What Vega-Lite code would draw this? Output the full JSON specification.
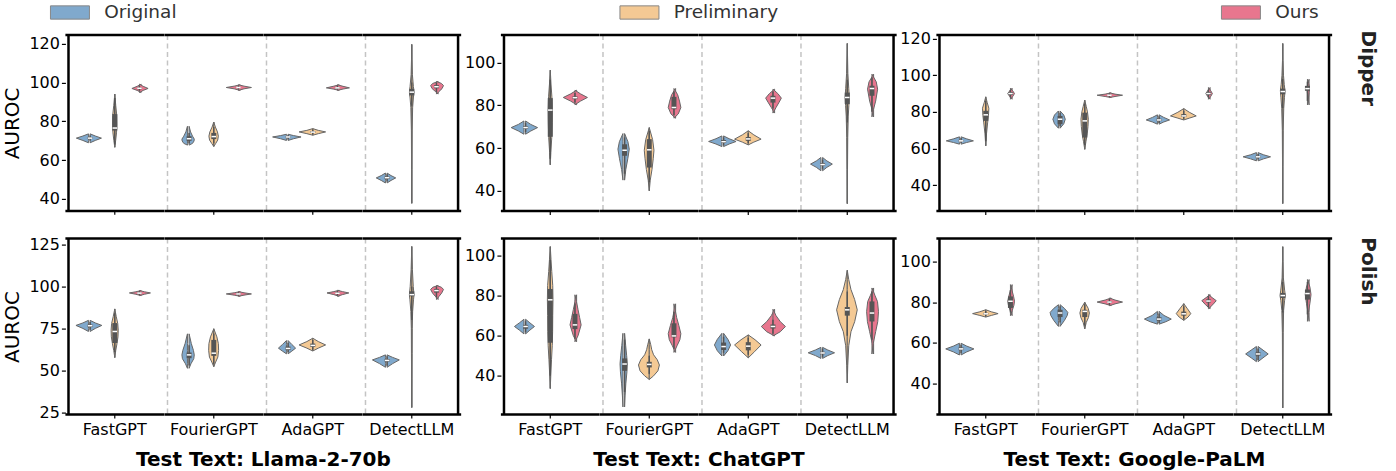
{
"$schema": "https://vega.github.io/schema/vega-lite/v6.json",
"padding": {"left": 2.4, "top": 1.9, "right": 10, "bottom": 0},
"datasets": {
"DL": [
{"detector":"FastGPT","method":"Original","auroc":68.9,"dens":0},{"detector":"FastGPT","method":"Original","auroc":70.1,"dens":0.42},{"detector":"FastGPT","method":"Original","auroc":71.3,"dens":0.92},{"detector":"FastGPT","method":"Original","auroc":72.4,"dens":0.42},{"detector":"FastGPT","method":"Original","auroc":73.5,"dens":0},
{"detector":"FastGPT","method":"Preliminary","auroc":66.6,"dens":0},{"detector":"FastGPT","method":"Preliminary","auroc":70,"dens":0.07},{"detector":"FastGPT","method":"Preliminary","auroc":74,"dens":0.14},{"detector":"FastGPT","method":"Preliminary","auroc":78,"dens":0.17},{"detector":"FastGPT","method":"Preliminary","auroc":83,"dens":0.16},{"detector":"FastGPT","method":"Preliminary","auroc":88,"dens":0.08},{"detector":"FastGPT","method":"Preliminary","auroc":94,"dens":0},
{"detector":"FastGPT","method":"Ours","auroc":94.8,"dens":0},{"detector":"FastGPT","method":"Ours","auroc":95.9,"dens":0.3},{"detector":"FastGPT","method":"Ours","auroc":96.9,"dens":0.7},{"detector":"FastGPT","method":"Ours","auroc":98.0,"dens":0.3},{"detector":"FastGPT","method":"Ours","auroc":99.1,"dens":0},
{"detector":"FourierGPT","method":"Original","auroc":67.7,"dens":0},{"detector":"FourierGPT","method":"Original","auroc":68.6,"dens":0.28},{"detector":"FourierGPT","method":"Original","auroc":69.8,"dens":0.4},{"detector":"FourierGPT","method":"Original","auroc":70.8,"dens":0.42},{"detector":"FourierGPT","method":"Original","auroc":72.3,"dens":0.28},{"detector":"FourierGPT","method":"Original","auroc":74.5,"dens":0.12},{"detector":"FourierGPT","method":"Original","auroc":77.4,"dens":0},
{"detector":"FourierGPT","method":"Preliminary","auroc":67,"dens":0},{"detector":"FourierGPT","method":"Preliminary","auroc":68.5,"dens":0.15},{"detector":"FourierGPT","method":"Preliminary","auroc":70.3,"dens":0.32},{"detector":"FourierGPT","method":"Preliminary","auroc":72.3,"dens":0.37},{"detector":"FourierGPT","method":"Preliminary","auroc":74.5,"dens":0.3},{"detector":"FourierGPT","method":"Preliminary","auroc":77,"dens":0.13},{"detector":"FourierGPT","method":"Preliminary","auroc":79.6,"dens":0},
{"detector":"FourierGPT","method":"Ours","auroc":95.9,"dens":0},{"detector":"FourierGPT","method":"Ours","auroc":96.7,"dens":0.45},{"detector":"FourierGPT","method":"Ours","auroc":97.4,"dens":1.05},{"detector":"FourierGPT","method":"Ours","auroc":98.1,"dens":0.45},{"detector":"FourierGPT","method":"Ours","auroc":98.8,"dens":0},
{"detector":"AdaGPT","method":"Original","auroc":70.1,"dens":0},{"detector":"AdaGPT","method":"Original","auroc":71.0,"dens":0.45},{"detector":"AdaGPT","method":"Original","auroc":71.9,"dens":1.05},{"detector":"AdaGPT","method":"Original","auroc":72.6,"dens":0.45},{"detector":"AdaGPT","method":"Original","auroc":73.3,"dens":0},
{"detector":"AdaGPT","method":"Preliminary","auroc":72.8,"dens":0},{"detector":"AdaGPT","method":"Preliminary","auroc":73.6,"dens":0.45},{"detector":"AdaGPT","method":"Preliminary","auroc":74.5,"dens":1.04},{"detector":"AdaGPT","method":"Preliminary","auroc":75.3,"dens":0.45},{"detector":"AdaGPT","method":"Preliminary","auroc":76.2,"dens":0},
{"detector":"AdaGPT","method":"Ours","auroc":95.9,"dens":0},{"detector":"AdaGPT","method":"Ours","auroc":96.6,"dens":0.45},{"detector":"AdaGPT","method":"Ours","auroc":97.2,"dens":0.97},{"detector":"AdaGPT","method":"Ours","auroc":98.0,"dens":0.45},{"detector":"AdaGPT","method":"Ours","auroc":98.8,"dens":0},
{"detector":"DetectLLM","method":"Original","auroc":48.2,"dens":0},{"detector":"DetectLLM","method":"Original","auroc":49.5,"dens":0.32},{"detector":"DetectLLM","method":"Original","auroc":50.8,"dens":0.7},{"detector":"DetectLLM","method":"Original","auroc":52.0,"dens":0.32},{"detector":"DetectLLM","method":"Original","auroc":53.3,"dens":0},
{"detector":"DetectLLM","method":"Preliminary","auroc":37.7,"dens":0},{"detector":"DetectLLM","method":"Preliminary","auroc":55,"dens":0.015},{"detector":"DetectLLM","method":"Preliminary","auroc":75,"dens":0.03},{"detector":"DetectLLM","method":"Preliminary","auroc":87,"dens":0.07},{"detector":"DetectLLM","method":"Preliminary","auroc":92,"dens":0.13},{"detector":"DetectLLM","method":"Preliminary","auroc":95,"dens":0.18},{"detector":"DetectLLM","method":"Preliminary","auroc":98,"dens":0.13},{"detector":"DetectLLM","method":"Preliminary","auroc":104,"dens":0.05},{"detector":"DetectLLM","method":"Preliminary","auroc":112,"dens":0.02},{"detector":"DetectLLM","method":"Preliminary","auroc":119.6,"dens":0},
{"detector":"DetectLLM","method":"Ours","auroc":94.0,"dens":0},{"detector":"DetectLLM","method":"Ours","auroc":95.3,"dens":0.2},{"detector":"DetectLLM","method":"Ours","auroc":96.8,"dens":0.45},{"detector":"DetectLLM","method":"Ours","auroc":98.4,"dens":0.57},{"detector":"DetectLLM","method":"Ours","auroc":99.5,"dens":0.4},{"detector":"DetectLLM","method":"Ours","auroc":100.5,"dens":0},
{"detector":"FastGPT","method":"Original","lo":70.0,"q1":70.9,"med":71.3,"q3":71.8,"hi":72.6},
{"detector":"FastGPT","method":"Preliminary","lo":68,"q1":75.2,"med":76.5,"q3":83.7,"hi":92},
{"detector":"FastGPT","method":"Ours","lo":95.8,"q1":96.5,"med":97.0,"q3":97.4,"hi":98.2},
{"detector":"FourierGPT","method":"Original","lo":68.5,"q1":69.9,"med":71.0,"q3":72.3,"hi":74},
{"detector":"FourierGPT","method":"Preliminary","lo":68.5,"q1":70.8,"med":72.1,"q3":74.0,"hi":77},
{"detector":"FourierGPT","method":"Ours","lo":96.5,"q1":97.1,"med":97.4,"q3":97.7,"hi":98.3},
{"detector":"AdaGPT","method":"Original","lo":70.6,"q1":71.5,"med":71.9,"q3":72.3,"hi":72.9},
{"detector":"AdaGPT","method":"Preliminary","lo":73.2,"q1":74.0,"med":74.4,"q3":74.9,"hi":75.7},
{"detector":"AdaGPT","method":"Ours","lo":96.4,"q1":96.9,"med":97.2,"q3":97.6,"hi":98.3},
{"detector":"DetectLLM","method":"Original","lo":49.0,"q1":50.2,"med":50.9,"q3":51.5,"hi":52.7},
{"detector":"DetectLLM","method":"Preliminary","lo":88,"q1":93.3,"med":95.0,"q3":96.7,"hi":100},
{"detector":"DetectLLM","method":"Ours","lo":95.0,"q1":97.0,"med":97.8,"q3":98.6,"hi":99.8}
],
"DC": [
{"detector":"FastGPT","method":"Original","auroc":66.5,"dens":0},{"detector":"FastGPT","method":"Original","auroc":68.0,"dens":0.42},{"detector":"FastGPT","method":"Original","auroc":69.6,"dens":0.97},{"detector":"FastGPT","method":"Original","auroc":71.1,"dens":0.42},{"detector":"FastGPT","method":"Original","auroc":72.7,"dens":0},
{"detector":"FastGPT","method":"Preliminary","auroc":52.2,"dens":0},{"detector":"FastGPT","method":"Preliminary","auroc":58,"dens":0.05},{"detector":"FastGPT","method":"Preliminary","auroc":65,"dens":0.12},{"detector":"FastGPT","method":"Preliminary","auroc":72,"dens":0.15},{"detector":"FastGPT","method":"Preliminary","auroc":78,"dens":0.16},{"detector":"FastGPT","method":"Preliminary","auroc":84,"dens":0.13},{"detector":"FastGPT","method":"Preliminary","auroc":90,"dens":0.06},{"detector":"FastGPT","method":"Preliminary","auroc":96.5,"dens":0},
{"detector":"FastGPT","method":"Ours","auroc":80.3,"dens":0},{"detector":"FastGPT","method":"Ours","auroc":82.0,"dens":0.45},{"detector":"FastGPT","method":"Ours","auroc":83.7,"dens":1.01},{"detector":"FastGPT","method":"Ours","auroc":85.4,"dens":0.45},{"detector":"FastGPT","method":"Ours","auroc":87.1,"dens":0},
{"detector":"FourierGPT","method":"Original","auroc":45,"dens":0},{"detector":"FourierGPT","method":"Original","auroc":50,"dens":0.1},{"detector":"FourierGPT","method":"Original","auroc":55,"dens":0.26},{"detector":"FourierGPT","method":"Original","auroc":59.5,"dens":0.38},{"detector":"FourierGPT","method":"Original","auroc":63,"dens":0.27},{"detector":"FourierGPT","method":"Original","auroc":66.8,"dens":0},
{"detector":"FourierGPT","method":"Preliminary","auroc":40,"dens":0},{"detector":"FourierGPT","method":"Preliminary","auroc":45,"dens":0.08},{"detector":"FourierGPT","method":"Preliminary","auroc":50,"dens":0.22},{"detector":"FourierGPT","method":"Preliminary","auroc":55,"dens":0.32},{"detector":"FourierGPT","method":"Preliminary","auroc":59,"dens":0.38},{"detector":"FourierGPT","method":"Preliminary","auroc":64,"dens":0.27},{"detector":"FourierGPT","method":"Preliminary","auroc":69.6,"dens":0},
{"detector":"FourierGPT","method":"Ours","auroc":74,"dens":0},{"detector":"FourierGPT","method":"Ours","auroc":76,"dens":0.35},{"detector":"FourierGPT","method":"Ours","auroc":79,"dens":0.56},{"detector":"FourierGPT","method":"Ours","auroc":82,"dens":0.45},{"detector":"FourierGPT","method":"Ours","auroc":85,"dens":0.3},{"detector":"FourierGPT","method":"Ours","auroc":87.9,"dens":0},
{"detector":"AdaGPT","method":"Original","auroc":60.7,"dens":0},{"detector":"AdaGPT","method":"Original","auroc":61.9,"dens":0.45},{"detector":"AdaGPT","method":"Original","auroc":63.1,"dens":1.01},{"detector":"AdaGPT","method":"Original","auroc":64.4,"dens":0.45},{"detector":"AdaGPT","method":"Original","auroc":65.7,"dens":0},
{"detector":"AdaGPT","method":"Preliminary","auroc":61.5,"dens":0},{"detector":"AdaGPT","method":"Preliminary","auroc":62.8,"dens":0.45},{"detector":"AdaGPT","method":"Preliminary","auroc":64.2,"dens":1.04},{"detector":"AdaGPT","method":"Preliminary","auroc":66.2,"dens":0.45},{"detector":"AdaGPT","method":"Preliminary","auroc":68.1,"dens":0},
{"detector":"AdaGPT","method":"Ours","auroc":76.4,"dens":0},{"detector":"AdaGPT","method":"Ours","auroc":79,"dens":0.25},{"detector":"AdaGPT","method":"Ours","auroc":81.5,"dens":0.5},{"detector":"AdaGPT","method":"Ours","auroc":83.4,"dens":0.68},{"detector":"AdaGPT","method":"Ours","auroc":85.5,"dens":0.4},{"detector":"AdaGPT","method":"Ours","auroc":87.6,"dens":0},
{"detector":"DetectLLM","method":"Original","auroc":49.4,"dens":0},{"detector":"DetectLLM","method":"Original","auroc":51.0,"dens":0.35},{"detector":"DetectLLM","method":"Original","auroc":52.5,"dens":0.79},{"detector":"DetectLLM","method":"Original","auroc":54.0,"dens":0.35},{"detector":"DetectLLM","method":"Original","auroc":55.6,"dens":0},
{"detector":"DetectLLM","method":"Preliminary","auroc":34,"dens":0},{"detector":"DetectLLM","method":"Preliminary","auroc":50,"dens":0.02},{"detector":"DetectLLM","method":"Preliminary","auroc":65,"dens":0.04},{"detector":"DetectLLM","method":"Preliminary","auroc":75,"dens":0.08},{"detector":"DetectLLM","method":"Preliminary","auroc":80,"dens":0.13},{"detector":"DetectLLM","method":"Preliminary","auroc":84,"dens":0.16},{"detector":"DetectLLM","method":"Preliminary","auroc":88,"dens":0.12},{"detector":"DetectLLM","method":"Preliminary","auroc":95,"dens":0.05},{"detector":"DetectLLM","method":"Preliminary","auroc":109,"dens":0},
{"detector":"DetectLLM","method":"Ours","auroc":74.6,"dens":0},{"detector":"DetectLLM","method":"Ours","auroc":78,"dens":0.12},{"detector":"DetectLLM","method":"Ours","auroc":82,"dens":0.3},{"detector":"DetectLLM","method":"Ours","auroc":87.6,"dens":0.46},{"detector":"DetectLLM","method":"Ours","auroc":91,"dens":0.35},{"detector":"DetectLLM","method":"Ours","auroc":94.6,"dens":0},
{"detector":"FastGPT","method":"Original","lo":67.5,"q1":69.0,"med":69.6,"q3":70.2,"hi":71.7},
{"detector":"FastGPT","method":"Preliminary","lo":55,"q1":65.3,"med":77.8,"q3":83.4,"hi":92},
{"detector":"FastGPT","method":"Ours","lo":81.3,"q1":82.9,"med":83.6,"q3":84.2,"hi":85.8},
{"detector":"FourierGPT","method":"Original","lo":48,"q1":56.4,"med":59.0,"q3":61.8,"hi":65},
{"detector":"FourierGPT","method":"Preliminary","lo":44,"q1":50.9,"med":59.2,"q3":64.2,"hi":68},
{"detector":"FourierGPT","method":"Ours","lo":75.5,"q1":78.2,"med":79.0,"q3":84.0,"hi":86.5},
{"detector":"AdaGPT","method":"Original","lo":61.3,"q1":62.4,"med":63.0,"q3":63.8,"hi":65.0},
{"detector":"AdaGPT","method":"Preliminary","lo":62.3,"q1":63.4,"med":64.3,"q3":65.2,"hi":67.0},
{"detector":"AdaGPT","method":"Ours","lo":78.5,"q1":81.3,"med":83.4,"q3":84.5,"hi":86.5},
{"detector":"DetectLLM","method":"Original","lo":50.3,"q1":51.8,"med":52.3,"q3":53.0,"hi":54.6},
{"detector":"DetectLLM","method":"Preliminary","lo":72,"q1":80.6,"med":83.7,"q3":86.0,"hi":92},
{"detector":"DetectLLM","method":"Ours","lo":77,"q1":84.5,"med":87.9,"q3":89.2,"hi":93}
],
"DG": [
{"detector":"FastGPT","method":"Original","auroc":62.4,"dens":0},{"detector":"FastGPT","method":"Original","auroc":63.3,"dens":0.45},{"detector":"FastGPT","method":"Original","auroc":64.2,"dens":1.0},{"detector":"FastGPT","method":"Original","auroc":65.3,"dens":0.45},{"detector":"FastGPT","method":"Original","auroc":66.4,"dens":0},
{"detector":"FastGPT","method":"Preliminary","auroc":61.5,"dens":0},{"detector":"FastGPT","method":"Preliminary","auroc":68,"dens":0.06},{"detector":"FastGPT","method":"Preliminary","auroc":74,"dens":0.15},{"detector":"FastGPT","method":"Preliminary","auroc":78,"dens":0.22},{"detector":"FastGPT","method":"Preliminary","auroc":82,"dens":0.25},{"detector":"FastGPT","method":"Preliminary","auroc":85,"dens":0.12},{"detector":"FastGPT","method":"Preliminary","auroc":88.2,"dens":0},
{"detector":"FastGPT","method":"Ours","auroc":86.9,"dens":0},{"detector":"FastGPT","method":"Ours","auroc":88.4,"dens":0.18},{"detector":"FastGPT","method":"Ours","auroc":90.0,"dens":0.33},{"detector":"FastGPT","method":"Ours","auroc":91.5,"dens":0.18},{"detector":"FastGPT","method":"Ours","auroc":92.9,"dens":0},
{"detector":"FourierGPT","method":"Original","auroc":71.1,"dens":0},{"detector":"FourierGPT","method":"Original","auroc":73.5,"dens":0.3},{"detector":"FourierGPT","method":"Original","auroc":76.0,"dens":0.42},{"detector":"FourierGPT","method":"Original","auroc":78.3,"dens":0.3},{"detector":"FourierGPT","method":"Original","auroc":80.5,"dens":0},
{"detector":"FourierGPT","method":"Preliminary","auroc":59.6,"dens":0},{"detector":"FourierGPT","method":"Preliminary","auroc":64,"dens":0.1},{"detector":"FourierGPT","method":"Preliminary","auroc":68,"dens":0.2},{"detector":"FourierGPT","method":"Preliminary","auroc":72,"dens":0.26},{"detector":"FourierGPT","method":"Preliminary","auroc":76,"dens":0.29},{"detector":"FourierGPT","method":"Preliminary","auroc":80,"dens":0.22},{"detector":"FourierGPT","method":"Preliminary","auroc":83,"dens":0.12},{"detector":"FourierGPT","method":"Preliminary","auroc":86.4,"dens":0},
{"detector":"FourierGPT","method":"Ours","auroc":87.8,"dens":0},{"detector":"FourierGPT","method":"Ours","auroc":88.4,"dens":0.45},{"detector":"FourierGPT","method":"Ours","auroc":89.1,"dens":1.06},{"detector":"FourierGPT","method":"Ours","auroc":89.7,"dens":0.45},{"detector":"FourierGPT","method":"Ours","auroc":90.4,"dens":0},
{"detector":"AdaGPT","method":"Original","auroc":73.3,"dens":0},{"detector":"AdaGPT","method":"Original","auroc":74.5,"dens":0.38},{"detector":"AdaGPT","method":"Original","auroc":75.6,"dens":0.85},{"detector":"AdaGPT","method":"Original","auroc":77.0,"dens":0.38},{"detector":"AdaGPT","method":"Original","auroc":78.4,"dens":0},
{"detector":"AdaGPT","method":"Preliminary","auroc":75.6,"dens":0},{"detector":"AdaGPT","method":"Preliminary","auroc":76.6,"dens":0.45},{"detector":"AdaGPT","method":"Preliminary","auroc":77.8,"dens":1.01},{"detector":"AdaGPT","method":"Preliminary","auroc":79.8,"dens":0.45},{"detector":"AdaGPT","method":"Preliminary","auroc":81.8,"dens":0},
{"detector":"AdaGPT","method":"Ours","auroc":86.9,"dens":0},{"detector":"AdaGPT","method":"Ours","auroc":88.4,"dens":0.18},{"detector":"AdaGPT","method":"Ours","auroc":90.0,"dens":0.32},{"detector":"AdaGPT","method":"Ours","auroc":91.6,"dens":0.18},{"detector":"AdaGPT","method":"Ours","auroc":93.3,"dens":0},
{"detector":"DetectLLM","method":"Original","auroc":53.3,"dens":0},{"detector":"DetectLLM","method":"Original","auroc":54.4,"dens":0.45},{"detector":"DetectLLM","method":"Original","auroc":55.5,"dens":1.01},{"detector":"DetectLLM","method":"Original","auroc":56.6,"dens":0.45},{"detector":"DetectLLM","method":"Original","auroc":57.8,"dens":0},
{"detector":"DetectLLM","method":"Preliminary","auroc":30,"dens":0},{"detector":"DetectLLM","method":"Preliminary","auroc":50,"dens":0.015},{"detector":"DetectLLM","method":"Preliminary","auroc":70,"dens":0.035},{"detector":"DetectLLM","method":"Preliminary","auroc":82,"dens":0.08},{"detector":"DetectLLM","method":"Preliminary","auroc":88,"dens":0.14},{"detector":"DetectLLM","method":"Preliminary","auroc":91.5,"dens":0.18},{"detector":"DetectLLM","method":"Preliminary","auroc":95,"dens":0.12},{"detector":"DetectLLM","method":"Preliminary","auroc":100,"dens":0.06},{"detector":"DetectLLM","method":"Preliminary","auroc":108,"dens":0.02},{"detector":"DetectLLM","method":"Preliminary","auroc":117.3,"dens":0},
{"detector":"DetectLLM","method":"Ours","auroc":83.8,"dens":0},{"detector":"DetectLLM","method":"Ours","auroc":87,"dens":0.07},{"detector":"DetectLLM","method":"Ours","auroc":90.5,"dens":0.13},{"detector":"DetectLLM","method":"Ours","auroc":93.3,"dens":0.15},{"detector":"DetectLLM","method":"Ours","auroc":95.5,"dens":0.1},{"detector":"DetectLLM","method":"Ours","auroc":97.8,"dens":0},
{"detector":"FastGPT","method":"Original","lo":63.0,"q1":63.8,"med":64.2,"q3":64.7,"hi":65.7},
{"detector":"FastGPT","method":"Preliminary","lo":64,"q1":75.1,"med":78.4,"q3":80.6,"hi":86},
{"detector":"FastGPT","method":"Ours","lo":87.8,"q1":89.2,"med":90.0,"q3":90.8,"hi":92.0},
{"detector":"FourierGPT","method":"Original","lo":72.2,"q1":73.3,"med":76.0,"q3":77.8,"hi":79.5},
{"detector":"FourierGPT","method":"Preliminary","lo":62,"q1":66,"med":75.1,"q3":79.6,"hi":84.5},
{"detector":"FourierGPT","method":"Ours","lo":88.2,"q1":88.8,"med":89.1,"q3":89.4,"hi":90.0},
{"detector":"AdaGPT","method":"Original","lo":74.0,"q1":75.0,"med":75.6,"q3":76.3,"hi":77.6},
{"detector":"AdaGPT","method":"Preliminary","lo":76.2,"q1":77.2,"med":77.8,"q3":78.8,"hi":80.6},
{"detector":"AdaGPT","method":"Ours","lo":87.8,"q1":89.2,"med":90.0,"q3":90.8,"hi":92.2},
{"detector":"DetectLLM","method":"Original","lo":54.0,"q1":55.0,"med":55.5,"q3":56.0,"hi":57.0},
{"detector":"DetectLLM","method":"Preliminary","lo":82,"q1":89.6,"med":91.1,"q3":92.7,"hi":98},
{"detector":"DetectLLM","method":"Ours","lo":86,"q1":91.5,"med":92.7,"q3":94.2,"hi":96.5}
],
"PL": [
{"detector":"FastGPT","method":"Original","auroc":73.2,"dens":0},{"detector":"FastGPT","method":"Original","auroc":75.0,"dens":0.42},{"detector":"FastGPT","method":"Original","auroc":76.8,"dens":0.95},{"detector":"FastGPT","method":"Original","auroc":78.3,"dens":0.42},{"detector":"FastGPT","method":"Original","auroc":79.8,"dens":0},
{"detector":"FastGPT","method":"Preliminary","auroc":57.7,"dens":0},{"detector":"FastGPT","method":"Preliminary","auroc":62,"dens":0.08},{"detector":"FastGPT","method":"Preliminary","auroc":66,"dens":0.18},{"detector":"FastGPT","method":"Preliminary","auroc":70,"dens":0.26},{"detector":"FastGPT","method":"Preliminary","auroc":74,"dens":0.28},{"detector":"FastGPT","method":"Preliminary","auroc":78,"dens":0.24},{"detector":"FastGPT","method":"Preliminary","auroc":82,"dens":0.12},{"detector":"FastGPT","method":"Preliminary","auroc":86.6,"dens":0},
{"detector":"FastGPT","method":"Ours","auroc":94.5,"dens":0},{"detector":"FastGPT","method":"Ours","auroc":95.3,"dens":0.4},{"detector":"FastGPT","method":"Ours","auroc":96.1,"dens":0.89},{"detector":"FastGPT","method":"Ours","auroc":96.8,"dens":0.4},{"detector":"FastGPT","method":"Ours","auroc":97.5,"dens":0},
{"detector":"FourierGPT","method":"Original","auroc":51.3,"dens":0},{"detector":"FourierGPT","method":"Original","auroc":54,"dens":0.15},{"detector":"FourierGPT","method":"Original","auroc":57,"dens":0.38},{"detector":"FourierGPT","method":"Original","auroc":59.3,"dens":0.42},{"detector":"FourierGPT","method":"Original","auroc":62,"dens":0.35},{"detector":"FourierGPT","method":"Original","auroc":66,"dens":0.18},{"detector":"FourierGPT","method":"Original","auroc":71.8,"dens":0},
{"detector":"FourierGPT","method":"Preliminary","auroc":52.3,"dens":0},{"detector":"FourierGPT","method":"Preliminary","auroc":55,"dens":0.15},{"detector":"FourierGPT","method":"Preliminary","auroc":58,"dens":0.33},{"detector":"FourierGPT","method":"Preliminary","auroc":62,"dens":0.39},{"detector":"FourierGPT","method":"Preliminary","auroc":66,"dens":0.37},{"detector":"FourierGPT","method":"Preliminary","auroc":70,"dens":0.25},{"detector":"FourierGPT","method":"Preliminary","auroc":74.8,"dens":0},
{"detector":"FourierGPT","method":"Ours","auroc":94.1,"dens":0},{"detector":"FourierGPT","method":"Ours","auroc":94.8,"dens":0.45},{"detector":"FourierGPT","method":"Ours","auroc":95.5,"dens":1.05},{"detector":"FourierGPT","method":"Ours","auroc":96.2,"dens":0.45},{"detector":"FourierGPT","method":"Ours","auroc":96.9,"dens":0},
{"detector":"AdaGPT","method":"Original","auroc":59.9,"dens":0},{"detector":"AdaGPT","method":"Original","auroc":61.5,"dens":0.3},{"detector":"AdaGPT","method":"Original","auroc":63.3,"dens":0.61},{"detector":"AdaGPT","method":"Original","auroc":65.5,"dens":0.3},{"detector":"AdaGPT","method":"Original","auroc":67.8,"dens":0},
{"detector":"AdaGPT","method":"Preliminary","auroc":61.6,"dens":0},{"detector":"AdaGPT","method":"Preliminary","auroc":63.3,"dens":0.45},{"detector":"AdaGPT","method":"Preliminary","auroc":65.2,"dens":1.04},{"detector":"AdaGPT","method":"Preliminary","auroc":67.2,"dens":0.45},{"detector":"AdaGPT","method":"Preliminary","auroc":69.2,"dens":0},
{"detector":"AdaGPT","method":"Ours","auroc":94.1,"dens":0},{"detector":"AdaGPT","method":"Ours","auroc":95.1,"dens":0.4},{"detector":"AdaGPT","method":"Ours","auroc":96.1,"dens":0.92},{"detector":"AdaGPT","method":"Ours","auroc":96.9,"dens":0.4},{"detector":"AdaGPT","method":"Ours","auroc":97.7,"dens":0},
{"detector":"DetectLLM","method":"Original","auroc":51.9,"dens":0},{"detector":"DetectLLM","method":"Original","auroc":54.1,"dens":0.45},{"detector":"DetectLLM","method":"Original","auroc":56.3,"dens":0.99},{"detector":"DetectLLM","method":"Original","auroc":57.8,"dens":0.45},{"detector":"DetectLLM","method":"Original","auroc":59.3,"dens":0},
{"detector":"DetectLLM","method":"Preliminary","auroc":28,"dens":0},{"detector":"DetectLLM","method":"Preliminary","auroc":45,"dens":0.015},{"detector":"DetectLLM","method":"Preliminary","auroc":60,"dens":0.025},{"detector":"DetectLLM","method":"Preliminary","auroc":75,"dens":0.035},{"detector":"DetectLLM","method":"Preliminary","auroc":85,"dens":0.07},{"detector":"DetectLLM","method":"Preliminary","auroc":92,"dens":0.14},{"detector":"DetectLLM","method":"Preliminary","auroc":95,"dens":0.18},{"detector":"DetectLLM","method":"Preliminary","auroc":100,"dens":0.12},{"detector":"DetectLLM","method":"Preliminary","auroc":110,"dens":0.05},{"detector":"DetectLLM","method":"Preliminary","auroc":123.7,"dens":0},
{"detector":"DetectLLM","method":"Ours","auroc":92.2,"dens":0},{"detector":"DetectLLM","method":"Ours","auroc":94,"dens":0.2},{"detector":"DetectLLM","method":"Ours","auroc":96,"dens":0.42},{"detector":"DetectLLM","method":"Ours","auroc":98.2,"dens":0.57},{"detector":"DetectLLM","method":"Ours","auroc":99.5,"dens":0.4},{"detector":"DetectLLM","method":"Ours","auroc":100.5,"dens":0},
{"detector":"FastGPT","method":"Original","lo":74.2,"q1":75.8,"med":76.6,"q3":77.3,"hi":78.8},
{"detector":"FastGPT","method":"Preliminary","lo":61,"q1":66.3,"med":73.2,"q3":78.2,"hi":84},
{"detector":"FastGPT","method":"Ours","lo":94.9,"q1":95.6,"med":96.0,"q3":96.4,"hi":97.1},
{"detector":"FourierGPT","method":"Original","lo":53,"q1":57.3,"med":59.3,"q3":60.7,"hi":65},
{"detector":"FourierGPT","method":"Preliminary","lo":54,"q1":58.7,"med":60.3,"q3":68.2,"hi":72},
{"detector":"FourierGPT","method":"Ours","lo":94.5,"q1":95.1,"med":95.5,"q3":95.9,"hi":96.5},
{"detector":"AdaGPT","method":"Original","lo":60.8,"q1":62.2,"med":63.1,"q3":64.2,"hi":66.5},
{"detector":"AdaGPT","method":"Preliminary","lo":62.3,"q1":64.0,"med":64.9,"q3":66.0,"hi":68.2},
{"detector":"AdaGPT","method":"Ours","lo":94.6,"q1":95.4,"med":95.9,"q3":96.4,"hi":97.2},
{"detector":"DetectLLM","method":"Original","lo":52.8,"q1":55.3,"med":56.0,"q3":56.8,"hi":58.5},
{"detector":"DetectLLM","method":"Preliminary","lo":80,"q1":94.1,"med":95.1,"q3":97.1,"hi":100},
{"detector":"DetectLLM","method":"Ours","lo":93.5,"q1":96.3,"med":97.5,"q3":98.5,"hi":99.8}
],
"PC": [
{"detector":"FastGPT","method":"Original","auroc":60.9,"dens":0},{"detector":"FastGPT","method":"Original","auroc":62.8,"dens":0.35},{"detector":"FastGPT","method":"Original","auroc":64.6,"dens":0.72},{"detector":"FastGPT","method":"Original","auroc":66.4,"dens":0.35},{"detector":"FastGPT","method":"Original","auroc":68.2,"dens":0},
{"detector":"FastGPT","method":"Preliminary","auroc":33.7,"dens":0},{"detector":"FastGPT","method":"Preliminary","auroc":40,"dens":0.04},{"detector":"FastGPT","method":"Preliminary","auroc":48,"dens":0.1},{"detector":"FastGPT","method":"Preliminary","auroc":55,"dens":0.16},{"detector":"FastGPT","method":"Preliminary","auroc":62,"dens":0.19},{"detector":"FastGPT","method":"Preliminary","auroc":70,"dens":0.2},{"detector":"FastGPT","method":"Preliminary","auroc":78,"dens":0.22},{"detector":"FastGPT","method":"Preliminary","auroc":85,"dens":0.2},{"detector":"FastGPT","method":"Preliminary","auroc":92,"dens":0.12},{"detector":"FastGPT","method":"Preliminary","auroc":98,"dens":0.06},{"detector":"FastGPT","method":"Preliminary","auroc":104.4,"dens":0},
{"detector":"FastGPT","method":"Ours","auroc":57.0,"dens":0},{"detector":"FastGPT","method":"Ours","auroc":60,"dens":0.25},{"detector":"FastGPT","method":"Ours","auroc":65.4,"dens":0.5},{"detector":"FastGPT","method":"Ours","auroc":69,"dens":0.38},{"detector":"FastGPT","method":"Ours","auroc":73,"dens":0.25},{"detector":"FastGPT","method":"Ours","auroc":77,"dens":0.12},{"detector":"FastGPT","method":"Ours","auroc":80.4,"dens":0},
{"detector":"FourierGPT","method":"Original","auroc":24.5,"dens":0},{"detector":"FourierGPT","method":"Original","auroc":30,"dens":0.04},{"detector":"FourierGPT","method":"Original","auroc":36,"dens":0.1},{"detector":"FourierGPT","method":"Original","auroc":42,"dens":0.19},{"detector":"FourierGPT","method":"Original","auroc":46,"dens":0.22},{"detector":"FourierGPT","method":"Original","auroc":50,"dens":0.17},{"detector":"FourierGPT","method":"Original","auroc":55,"dens":0.09},{"detector":"FourierGPT","method":"Original","auroc":61.2,"dens":0},
{"detector":"FourierGPT","method":"Preliminary","auroc":38.2,"dens":0},{"detector":"FourierGPT","method":"Preliminary","auroc":40,"dens":0.35},{"detector":"FourierGPT","method":"Preliminary","auroc":42.5,"dens":0.7},{"detector":"FourierGPT","method":"Preliminary","auroc":45.4,"dens":0.82},{"detector":"FourierGPT","method":"Preliminary","auroc":48,"dens":0.65},{"detector":"FourierGPT","method":"Preliminary","auroc":50.5,"dens":0.35},{"detector":"FourierGPT","method":"Preliminary","auroc":53,"dens":0.2},{"detector":"FourierGPT","method":"Preliminary","auroc":55.5,"dens":0.12},{"detector":"FourierGPT","method":"Preliminary","auroc":58.4,"dens":0},
{"detector":"FourierGPT","method":"Ours","auroc":51.7,"dens":0},{"detector":"FourierGPT","method":"Ours","auroc":55,"dens":0.25},{"detector":"FourierGPT","method":"Ours","auroc":58,"dens":0.48},{"detector":"FourierGPT","method":"Ours","auroc":61,"dens":0.56},{"detector":"FourierGPT","method":"Ours","auroc":65,"dens":0.4},{"detector":"FourierGPT","method":"Ours","auroc":69,"dens":0.22},{"detector":"FourierGPT","method":"Ours","auroc":75.9,"dens":0},
{"detector":"AdaGPT","method":"Original","auroc":49.9,"dens":0},{"detector":"AdaGPT","method":"Original","auroc":52.5,"dens":0.35},{"detector":"AdaGPT","method":"Original","auroc":55.4,"dens":0.57},{"detector":"AdaGPT","method":"Original","auroc":58.2,"dens":0.35},{"detector":"AdaGPT","method":"Original","auroc":61.2,"dens":0},
{"detector":"AdaGPT","method":"Preliminary","auroc":49.0,"dens":0},{"detector":"AdaGPT","method":"Preliminary","auroc":52,"dens":0.5},{"detector":"AdaGPT","method":"Preliminary","auroc":55.4,"dens":1.04},{"detector":"AdaGPT","method":"Preliminary","auroc":58,"dens":0.55},{"detector":"AdaGPT","method":"Preliminary","auroc":60.4,"dens":0},
{"detector":"AdaGPT","method":"Ours","auroc":59.9,"dens":0},{"detector":"AdaGPT","method":"Ours","auroc":62,"dens":0.6},{"detector":"AdaGPT","method":"Ours","auroc":64.6,"dens":1.01},{"detector":"AdaGPT","method":"Ours","auroc":67,"dens":0.6},{"detector":"AdaGPT","method":"Ours","auroc":70,"dens":0.25},{"detector":"AdaGPT","method":"Ours","auroc":73.2,"dens":0},
{"detector":"DetectLLM","method":"Original","auroc":48.7,"dens":0},{"detector":"DetectLLM","method":"Original","auroc":50.1,"dens":0.42},{"detector":"DetectLLM","method":"Original","auroc":51.5,"dens":0.97},{"detector":"DetectLLM","method":"Original","auroc":52.9,"dens":0.42},{"detector":"DetectLLM","method":"Original","auroc":54.2,"dens":0},
{"detector":"DetectLLM","method":"Preliminary","auroc":36.5,"dens":0},{"detector":"DetectLLM","method":"Preliminary","auroc":45,"dens":0.04},{"detector":"DetectLLM","method":"Preliminary","auroc":55,"dens":0.12},{"detector":"DetectLLM","method":"Preliminary","auroc":62,"dens":0.3},{"detector":"DetectLLM","method":"Preliminary","auroc":67,"dens":0.6},{"detector":"DetectLLM","method":"Preliminary","auroc":72.9,"dens":0.81},{"detector":"DetectLLM","method":"Preliminary","auroc":78,"dens":0.6},{"detector":"DetectLLM","method":"Preliminary","auroc":83,"dens":0.3},{"detector":"DetectLLM","method":"Preliminary","auroc":88,"dens":0.12},{"detector":"DetectLLM","method":"Preliminary","auroc":92.6,"dens":0},
{"detector":"DetectLLM","method":"Ours","auroc":50.9,"dens":0},{"detector":"DetectLLM","method":"Ours","auroc":56,"dens":0.1},{"detector":"DetectLLM","method":"Ours","auroc":62,"dens":0.3},{"detector":"DetectLLM","method":"Ours","auroc":67,"dens":0.47},{"detector":"DetectLLM","method":"Ours","auroc":72,"dens":0.53},{"detector":"DetectLLM","method":"Ours","auroc":77,"dens":0.45},{"detector":"DetectLLM","method":"Ours","auroc":80,"dens":0.25},{"detector":"DetectLLM","method":"Ours","auroc":83.8,"dens":0},
{"detector":"FastGPT","method":"Original","lo":61.8,"q1":63.5,"med":64.6,"q3":65.4,"hi":67.2},
{"detector":"FastGPT","method":"Preliminary","lo":40,"q1":56.5,"med":77.9,"q3":83.3,"hi":98},
{"detector":"FastGPT","method":"Ours","lo":58.5,"q1":63.3,"med":65.4,"q3":70.9,"hi":76},
{"detector":"FourierGPT","method":"Original","lo":32,"q1":42.5,"med":45.9,"q3":48.7,"hi":58},
{"detector":"FourierGPT","method":"Preliminary","lo":41,"q1":44.2,"med":45.7,"q3":47.0,"hi":50},
{"detector":"FourierGPT","method":"Ours","lo":53.5,"q1":59.2,"med":59.9,"q3":66.2,"hi":72},
{"detector":"AdaGPT","method":"Original","lo":51.5,"q1":52.9,"med":54.6,"q3":56.6,"hi":59.5},
{"detector":"AdaGPT","method":"Preliminary","lo":50.5,"q1":52.7,"med":54.8,"q3":56.8,"hi":59},
{"detector":"AdaGPT","method":"Ours","lo":61,"q1":63.6,"med":64.6,"q3":65.6,"hi":68},
{"detector":"DetectLLM","method":"Original","lo":49.5,"q1":50.8,"med":51.4,"q3":52.0,"hi":53.5},
{"detector":"DetectLLM","method":"Preliminary","lo":60,"q1":70,"med":72.9,"q3":74.3,"hi":82},
{"detector":"DetectLLM","method":"Ours","lo":58,"q1":67.1,"med":71.3,"q3":77.1,"hi":82}
],
"PG": [
{"detector":"FastGPT","method":"Original","auroc":54.0,"dens":0},{"detector":"FastGPT","method":"Original","auroc":55.5,"dens":0.45},{"detector":"FastGPT","method":"Original","auroc":57.0,"dens":1.04},{"detector":"FastGPT","method":"Original","auroc":58.4,"dens":0.45},{"detector":"FastGPT","method":"Original","auroc":59.8,"dens":0},
{"detector":"FastGPT","method":"Preliminary","auroc":72.7,"dens":0},{"detector":"FastGPT","method":"Preliminary","auroc":73.5,"dens":0.45},{"detector":"FastGPT","method":"Preliminary","auroc":74.4,"dens":1.0},{"detector":"FastGPT","method":"Preliminary","auroc":75.3,"dens":0.45},{"detector":"FastGPT","method":"Preliminary","auroc":76.3,"dens":0},
{"detector":"FastGPT","method":"Ours","auroc":73.4,"dens":0},{"detector":"FastGPT","method":"Ours","auroc":76,"dens":0.15},{"detector":"FastGPT","method":"Ours","auroc":78.5,"dens":0.28},{"detector":"FastGPT","method":"Ours","auroc":80.5,"dens":0.33},{"detector":"FastGPT","method":"Ours","auroc":83,"dens":0.25},{"detector":"FastGPT","method":"Ours","auroc":86,"dens":0.12},{"detector":"FastGPT","method":"Ours","auroc":88.7,"dens":0},
{"detector":"FourierGPT","method":"Original","auroc":68.1,"dens":0},{"detector":"FourierGPT","method":"Original","auroc":71,"dens":0.35},{"detector":"FourierGPT","method":"Original","auroc":73.5,"dens":0.58},{"detector":"FourierGPT","method":"Original","auroc":75.0,"dens":0.63},{"detector":"FourierGPT","method":"Original","auroc":77,"dens":0.35},{"detector":"FourierGPT","method":"Original","auroc":78.8,"dens":0},
{"detector":"FourierGPT","method":"Preliminary","auroc":66.9,"dens":0},{"detector":"FourierGPT","method":"Preliminary","auroc":70,"dens":0.12},{"detector":"FourierGPT","method":"Preliminary","auroc":72.5,"dens":0.3},{"detector":"FourierGPT","method":"Preliminary","auroc":74.7,"dens":0.37},{"detector":"FourierGPT","method":"Preliminary","auroc":77,"dens":0.28},{"detector":"FourierGPT","method":"Preliminary","auroc":80,"dens":0},
{"detector":"FourierGPT","method":"Ours","auroc":78.3,"dens":0},{"detector":"FourierGPT","method":"Ours","auroc":79.2,"dens":0.45},{"detector":"FourierGPT","method":"Ours","auroc":80.1,"dens":1.06},{"detector":"FourierGPT","method":"Ours","auroc":81.1,"dens":0.45},{"detector":"FourierGPT","method":"Ours","auroc":82.1,"dens":0},
{"detector":"AdaGPT","method":"Original","auroc":69.2,"dens":0},{"detector":"AdaGPT","method":"Original","auroc":70.4,"dens":0.55},{"detector":"AdaGPT","method":"Original","auroc":71.7,"dens":0.99},{"detector":"AdaGPT","method":"Original","auroc":73.5,"dens":0.4},{"detector":"AdaGPT","method":"Original","auroc":75.5,"dens":0},
{"detector":"AdaGPT","method":"Preliminary","auroc":71.1,"dens":0},{"detector":"AdaGPT","method":"Preliminary","auroc":72.7,"dens":0.35},{"detector":"AdaGPT","method":"Preliminary","auroc":74.4,"dens":0.57},{"detector":"AdaGPT","method":"Preliminary","auroc":76.8,"dens":0.3},{"detector":"AdaGPT","method":"Preliminary","auroc":79.3,"dens":0},
{"detector":"AdaGPT","method":"Ours","auroc":76.8,"dens":0},{"detector":"AdaGPT","method":"Ours","auroc":78.8,"dens":0.35},{"detector":"AdaGPT","method":"Ours","auroc":80.8,"dens":0.63},{"detector":"AdaGPT","method":"Ours","auroc":82.3,"dens":0.3},{"detector":"AdaGPT","method":"Ours","auroc":83.8,"dens":0},
{"detector":"DetectLLM","method":"Original","auroc":50.7,"dens":0},{"detector":"DetectLLM","method":"Original","auroc":52.6,"dens":0.4},{"detector":"DetectLLM","method":"Original","auroc":54.5,"dens":0.82},{"detector":"DetectLLM","method":"Original","auroc":56.4,"dens":0.4},{"detector":"DetectLLM","method":"Original","auroc":58.2,"dens":0},
{"detector":"DetectLLM","method":"Preliminary","auroc":27.9,"dens":0},{"detector":"DetectLLM","method":"Preliminary","auroc":45,"dens":0.015},{"detector":"DetectLLM","method":"Preliminary","auroc":65,"dens":0.03},{"detector":"DetectLLM","method":"Preliminary","auroc":76,"dens":0.07},{"detector":"DetectLLM","method":"Preliminary","auroc":81,"dens":0.15},{"detector":"DetectLLM","method":"Preliminary","auroc":83.3,"dens":0.21},{"detector":"DetectLLM","method":"Preliminary","auroc":86,"dens":0.15},{"detector":"DetectLLM","method":"Preliminary","auroc":92,"dens":0.05},{"detector":"DetectLLM","method":"Preliminary","auroc":100,"dens":0.02},{"detector":"DetectLLM","method":"Preliminary","auroc":107.4,"dens":0},
{"detector":"DetectLLM","method":"Ours","auroc":70.6,"dens":0},{"detector":"DetectLLM","method":"Ours","auroc":75,"dens":0.08},{"detector":"DetectLLM","method":"Ours","auroc":79.5,"dens":0.2},{"detector":"DetectLLM","method":"Ours","auroc":83.8,"dens":0.29},{"detector":"DetectLLM","method":"Ours","auroc":87.5,"dens":0.2},{"detector":"DetectLLM","method":"Ours","auroc":91.2,"dens":0},
{"detector":"FastGPT","method":"Original","lo":54.8,"q1":56.4,"med":57.0,"q3":57.7,"hi":59.0},
{"detector":"FastGPT","method":"Preliminary","lo":73.1,"q1":73.9,"med":74.3,"q3":74.8,"hi":75.8},
{"detector":"FastGPT","method":"Ours","lo":75,"q1":77.2,"med":80.5,"q3":82.9,"hi":86},
{"detector":"FourierGPT","method":"Original","lo":70,"q1":72.7,"med":74.7,"q3":76.3,"hi":78},
{"detector":"FourierGPT","method":"Preliminary","lo":68.5,"q1":72.7,"med":75.5,"q3":76.3,"hi":79},
{"detector":"FourierGPT","method":"Ours","lo":78.8,"q1":79.7,"med":80.1,"q3":80.6,"hi":81.6},
{"detector":"AdaGPT","method":"Original","lo":69.8,"q1":71.0,"med":71.7,"q3":72.6,"hi":74.5},
{"detector":"AdaGPT","method":"Preliminary","lo":71.8,"q1":73.4,"med":74.3,"q3":75.4,"hi":78},
{"detector":"AdaGPT","method":"Ours","lo":77.5,"q1":79.9,"med":80.6,"q3":81.4,"hi":83},
{"detector":"DetectLLM","method":"Original","lo":51.5,"q1":53.7,"med":54.5,"q3":55.3,"hi":57.2},
{"detector":"DetectLLM","method":"Preliminary","lo":75,"q1":82.1,"med":83.3,"q3":84.6,"hi":90},
{"detector":"DetectLLM","method":"Ours","lo":74,"q1":81.3,"med":84.3,"q3":86.3,"hi":90}
]
},
"concat": [
{"data": {"name": "DL"},
 "facet": {"column": {"field": "detector", "type": "nominal", "sort": ["FastGPT","FourierGPT","AdaGPT","DetectLLM"], "title": null, "header": {"labels": false}}},
 "spacing": 0, "bounds": "flush",
 "spec": {"width": 98.75, "height": 176, "layer": [
  {"transform": [{"filter": "datum.method === 'Original' && isValid(datum.dens)"}], "mark": {"type": "area", "orient": "horizontal", "stroke": "#666", "strokeWidth": 1}, "encoding": {"y": {"field": "auroc", "type": "quantitative", "scale": {"domain": [33.8, 124.5], "nice": false, "zero": false}, "axis": {"title": "AUROC", "values": [40,60,80,100,120], "domain": false}}, "x": {"field": "dens", "type": "quantitative", "stack": null, "scale": {"domain": [-5.75, 1.75], "reverse": true}, "axis": null}, "x2": {"datum": 0}, "fill": {"field": "method", "type": "nominal", "title": null, "scale": {"domain": ["Original","Preliminary","Ours"], "range": ["#80a9cd","#f4c994","#e8768e"]}}}},
  {"transform": [{"filter": "datum.method === 'Original'"}], "layer": [
   {"transform": [{"filter": "isValid(datum.dens)"}], "mark": {"type": "area", "orient": "horizontal", "stroke": "#666", "strokeWidth": 1}, "encoding": {"y": {"field": "auroc", "type": "quantitative", "axis": null}, "x": {"field": "dens", "type": "quantitative", "stack": null, "scale": {"domain": [-1.75, 5.75]}, "axis": null}, "x2": {"datum": 0}, "fill": {"field": "method", "type": "nominal", "title": null}}},
   {"transform": [{"filter": "isValid(datum.q1) && datum.detector !== 'FastGPT'"}], "mark": {"type": "rule", "color": "#c4c4c4", "strokeWidth": 1.5, "strokeDash": [5, 3.5]}, "encoding": {"x": {"datum": -1.75, "axis": null}}},
   {"transform": [{"filter": "isValid(datum.q1) && datum.detector === 'FastGPT'"}], "mark": {"type": "rule", "color": "#000", "strokeWidth": 2.5}, "encoding": {"x": {"datum": -1.75, "axis": null}}},
   {"transform": [{"filter": "isValid(datum.q1) && datum.detector === 'DetectLLM'"}], "mark": {"type": "rule", "color": "#000", "strokeWidth": 2.5}, "encoding": {"x": {"datum": 5.75, "axis": null}}},
   {"transform": [{"filter": "isValid(datum.q1)"}], "mark": {"type": "rule", "color": "#000", "strokeWidth": 2.5}, "encoding": {"y": {"datum": 124.5, "axis": null}}},
   {"transform": [{"filter": "isValid(datum.q1)"}], "mark": {"type": "rule", "color": "#000", "strokeWidth": 2.5}, "encoding": {"y": {"datum": 33.8, "axis": null}}},
   {"transform": [{"filter": "isValid(datum.q1)"}], "mark": {"type": "rule", "color": "#555", "strokeWidth": 1.5}, "encoding": {"x": {"datum": 0, "axis": null}, "y": {"field": "lo", "type": "quantitative", "axis": null}, "y2": {"field": "hi"}}},
   {"transform": [{"filter": "isValid(datum.q1)"}], "mark": {"type": "rule", "color": "#555", "strokeWidth": 5}, "encoding": {"x": {"datum": 0, "axis": null}, "y": {"field": "q1", "type": "quantitative", "axis": null}, "y2": {"field": "q3"}}},
   {"transform": [{"filter": "isValid(datum.q1)"}], "mark": {"type": "tick", "orient": "horizontal", "color": "white", "size": 4.5, "thickness": 1.5, "opacity": 1}, "encoding": {"x": {"datum": 0, "axis": null}, "y": {"field": "med", "type": "quantitative", "axis": null}}}
  ]},
  {"transform": [{"filter": "datum.method === 'Preliminary' && isValid(datum.dens)"}], "mark": {"type": "area", "orient": "horizontal", "stroke": "#666", "strokeWidth": 1}, "encoding": {"y": {"field": "auroc", "type": "quantitative", "axis": null}, "x": {"field": "dens", "type": "quantitative", "stack": null, "scale": {"domain": [-3.75, 3.75], "reverse": true}, "axis": null}, "x2": {"datum": 0}, "fill": {"field": "method", "type": "nominal", "title": null}}},
  {"transform": [{"filter": "datum.method === 'Preliminary'"}], "layer": [
   {"transform": [{"filter": "isValid(datum.dens)"}], "mark": {"type": "area", "orient": "horizontal", "stroke": "#666", "strokeWidth": 1}, "encoding": {"y": {"field": "auroc", "type": "quantitative", "axis": null}, "x": {"field": "dens", "type": "quantitative", "stack": null, "scale": {"domain": [-3.75, 3.75]}, "axis": null}, "x2": {"datum": 0}, "fill": {"field": "method", "type": "nominal", "title": null}}},
   {"transform": [{"filter": "isValid(datum.q1)"}], "mark": {"type": "rule", "color": "#000", "strokeWidth": 1.2}, "encoding": {"x": {"datum": 0, "axis": null}, "y": {"datum": 33.8, "axis": null}, "y2": {"datum": 31.75}}},
   {"transform": [{"filter": "isValid(datum.q1)"}], "mark": {"type": "rule", "color": "#555", "strokeWidth": 1.5}, "encoding": {"x": {"datum": 0, "axis": null}, "y": {"field": "lo", "type": "quantitative", "axis": null}, "y2": {"field": "hi"}}},
   {"transform": [{"filter": "isValid(datum.q1)"}], "mark": {"type": "rule", "color": "#555", "strokeWidth": 5}, "encoding": {"x": {"datum": 0, "axis": null}, "y": {"field": "q1", "type": "quantitative", "axis": null}, "y2": {"field": "q3"}}},
   {"transform": [{"filter": "isValid(datum.q1)"}], "mark": {"type": "tick", "orient": "horizontal", "color": "white", "size": 4.5, "thickness": 1.5, "opacity": 1}, "encoding": {"x": {"datum": 0, "axis": null}, "y": {"field": "med", "type": "quantitative", "axis": null}}}
  ]},
  {"transform": [{"filter": "datum.method === 'Ours' && isValid(datum.dens)"}], "mark": {"type": "area", "orient": "horizontal", "stroke": "#666", "strokeWidth": 1}, "encoding": {"y": {"field": "auroc", "type": "quantitative", "axis": null}, "x": {"field": "dens", "type": "quantitative", "stack": null, "scale": {"domain": [-1.75, 5.75], "reverse": true}, "axis": null}, "x2": {"datum": 0}, "fill": {"field": "method", "type": "nominal", "title": null}}},
  {"transform": [{"filter": "datum.method === 'Ours'"}], "layer": [
   {"transform": [{"filter": "isValid(datum.dens)"}], "mark": {"type": "area", "orient": "horizontal", "stroke": "#666", "strokeWidth": 1}, "encoding": {"y": {"field": "auroc", "type": "quantitative", "axis": null}, "x": {"field": "dens", "type": "quantitative", "stack": null, "scale": {"domain": [-5.75, 1.75]}, "axis": null}, "x2": {"datum": 0}, "fill": {"field": "method", "type": "nominal", "title": null}}},
   {"transform": [{"filter": "isValid(datum.q1)"}], "mark": {"type": "rule", "color": "#555", "strokeWidth": 1.5}, "encoding": {"x": {"datum": 0, "axis": null}, "y": {"field": "lo", "type": "quantitative", "axis": null}, "y2": {"field": "hi"}}},
   {"transform": [{"filter": "isValid(datum.q1)"}], "mark": {"type": "rule", "color": "#555", "strokeWidth": 5}, "encoding": {"x": {"datum": 0, "axis": null}, "y": {"field": "q1", "type": "quantitative", "axis": null}, "y2": {"field": "q3"}}},
   {"transform": [{"filter": "isValid(datum.q1)"}], "mark": {"type": "tick", "orient": "horizontal", "color": "white", "size": 4.5, "thickness": 1.5, "opacity": 1}, "encoding": {"x": {"datum": 0, "axis": null}, "y": {"field": "med", "type": "quantitative", "axis": null}}}
  ]}
 ], "resolve": {"scale": {"x": "independent"}, "axis": {"x": "independent", "y": "independent"}}}
},
{"data": {"name": "DC"},
 "facet": {"column": {"field": "detector", "type": "nominal", "sort": ["FastGPT","FourierGPT","AdaGPT","DetectLLM"], "title": null, "header": {"labels": false}}},
 "spacing": 0, "bounds": "flush",
 "spec": {"width": 98.75, "height": 176, "layer": [
  {"transform": [{"filter": "datum.method === 'Original' && isValid(datum.dens)"}], "mark": {"type": "area", "orient": "horizontal", "stroke": "#666", "strokeWidth": 1}, "encoding": {"y": {"field": "auroc", "type": "quantitative", "scale": {"domain": [30.6, 113], "nice": false, "zero": false}, "axis": {"title": null, "values": [40,60,80,100], "domain": false}}, "x": {"field": "dens", "type": "quantitative", "stack": null, "scale": {"domain": [-5.75, 1.75], "reverse": true}, "axis": null}, "x2": {"datum": 0}, "fill": {"field": "method", "type": "nominal", "title": null, "scale": {"domain": ["Original","Preliminary","Ours"], "range": ["#80a9cd","#f4c994","#e8768e"]}}}},
  {"transform": [{"filter": "datum.method === 'Original'"}], "layer": [
   {"transform": [{"filter": "isValid(datum.dens)"}], "mark": {"type": "area", "orient": "horizontal", "stroke": "#666", "strokeWidth": 1}, "encoding": {"y": {"field": "auroc", "type": "quantitative", "axis": null}, "x": {"field": "dens", "type": "quantitative", "stack": null, "scale": {"domain": [-1.75, 5.75]}, "axis": null}, "x2": {"datum": 0}, "fill": {"field": "method", "type": "nominal", "title": null}}},
   {"transform": [{"filter": "isValid(datum.q1) && datum.detector !== 'FastGPT'"}], "mark": {"type": "rule", "color": "#c4c4c4", "strokeWidth": 1.5, "strokeDash": [5, 3.5]}, "encoding": {"x": {"datum": -1.75, "axis": null}}},
   {"transform": [{"filter": "isValid(datum.q1) && datum.detector === 'FastGPT'"}], "mark": {"type": "rule", "color": "#000", "strokeWidth": 2.5}, "encoding": {"x": {"datum": -1.75, "axis": null}}},
   {"transform": [{"filter": "isValid(datum.q1) && datum.detector === 'DetectLLM'"}], "mark": {"type": "rule", "color": "#000", "strokeWidth": 2.5}, "encoding": {"x": {"datum": 5.75, "axis": null}}},
   {"transform": [{"filter": "isValid(datum.q1)"}], "mark": {"type": "rule", "color": "#000", "strokeWidth": 2.5}, "encoding": {"y": {"datum": 113, "axis": null}}},
   {"transform": [{"filter": "isValid(datum.q1)"}], "mark": {"type": "rule", "color": "#000", "strokeWidth": 2.5}, "encoding": {"y": {"datum": 30.6, "axis": null}}},
   {"transform": [{"filter": "isValid(datum.q1)"}], "mark": {"type": "rule", "color": "#555", "strokeWidth": 1.5}, "encoding": {"x": {"datum": 0, "axis": null}, "y": {"field": "lo", "type": "quantitative", "axis": null}, "y2": {"field": "hi"}}},
   {"transform": [{"filter": "isValid(datum.q1)"}], "mark": {"type": "rule", "color": "#555", "strokeWidth": 5}, "encoding": {"x": {"datum": 0, "axis": null}, "y": {"field": "q1", "type": "quantitative", "axis": null}, "y2": {"field": "q3"}}},
   {"transform": [{"filter": "isValid(datum.q1)"}], "mark": {"type": "tick", "orient": "horizontal", "color": "white", "size": 4.5, "thickness": 1.5, "opacity": 1}, "encoding": {"x": {"datum": 0, "axis": null}, "y": {"field": "med", "type": "quantitative", "axis": null}}}
  ]},
  {"transform": [{"filter": "datum.method === 'Preliminary' && isValid(datum.dens)"}], "mark": {"type": "area", "orient": "horizontal", "stroke": "#666", "strokeWidth": 1}, "encoding": {"y": {"field": "auroc", "type": "quantitative", "axis": null}, "x": {"field": "dens", "type": "quantitative", "stack": null, "scale": {"domain": [-3.75, 3.75], "reverse": true}, "axis": null}, "x2": {"datum": 0}, "fill": {"field": "method", "type": "nominal", "title": null}}},
  {"transform": [{"filter": "datum.method === 'Preliminary'"}], "layer": [
   {"transform": [{"filter": "isValid(datum.dens)"}], "mark": {"type": "area", "orient": "horizontal", "stroke": "#666", "strokeWidth": 1}, "encoding": {"y": {"field": "auroc", "type": "quantitative", "axis": null}, "x": {"field": "dens", "type": "quantitative", "stack": null, "scale": {"domain": [-3.75, 3.75]}, "axis": null}, "x2": {"datum": 0}, "fill": {"field": "method", "type": "nominal", "title": null}}},
   {"transform": [{"filter": "isValid(datum.q1)"}], "mark": {"type": "rule", "color": "#000", "strokeWidth": 1.2}, "encoding": {"x": {"datum": 0, "axis": null}, "y": {"datum": 30.6, "axis": null}, "y2": {"datum": 28.73}}},
   {"transform": [{"filter": "isValid(datum.q1)"}], "mark": {"type": "rule", "color": "#555", "strokeWidth": 1.5}, "encoding": {"x": {"datum": 0, "axis": null}, "y": {"field": "lo", "type": "quantitative", "axis": null}, "y2": {"field": "hi"}}},
   {"transform": [{"filter": "isValid(datum.q1)"}], "mark": {"type": "rule", "color": "#555", "strokeWidth": 5}, "encoding": {"x": {"datum": 0, "axis": null}, "y": {"field": "q1", "type": "quantitative", "axis": null}, "y2": {"field": "q3"}}},
   {"transform": [{"filter": "isValid(datum.q1)"}], "mark": {"type": "tick", "orient": "horizontal", "color": "white", "size": 4.5, "thickness": 1.5, "opacity": 1}, "encoding": {"x": {"datum": 0, "axis": null}, "y": {"field": "med", "type": "quantitative", "axis": null}}}
  ]},
  {"transform": [{"filter": "datum.method === 'Ours' && isValid(datum.dens)"}], "mark": {"type": "area", "orient": "horizontal", "stroke": "#666", "strokeWidth": 1}, "encoding": {"y": {"field": "auroc", "type": "quantitative", "axis": null}, "x": {"field": "dens", "type": "quantitative", "stack": null, "scale": {"domain": [-1.75, 5.75], "reverse": true}, "axis": null}, "x2": {"datum": 0}, "fill": {"field": "method", "type": "nominal", "title": null}}},
  {"transform": [{"filter": "datum.method === 'Ours'"}], "layer": [
   {"transform": [{"filter": "isValid(datum.dens)"}], "mark": {"type": "area", "orient": "horizontal", "stroke": "#666", "strokeWidth": 1}, "encoding": {"y": {"field": "auroc", "type": "quantitative", "axis": null}, "x": {"field": "dens", "type": "quantitative", "stack": null, "scale": {"domain": [-5.75, 1.75]}, "axis": null}, "x2": {"datum": 0}, "fill": {"field": "method", "type": "nominal", "title": null}}},
   {"transform": [{"filter": "isValid(datum.q1)"}], "mark": {"type": "rule", "color": "#555", "strokeWidth": 1.5}, "encoding": {"x": {"datum": 0, "axis": null}, "y": {"field": "lo", "type": "quantitative", "axis": null}, "y2": {"field": "hi"}}},
   {"transform": [{"filter": "isValid(datum.q1)"}], "mark": {"type": "rule", "color": "#555", "strokeWidth": 5}, "encoding": {"x": {"datum": 0, "axis": null}, "y": {"field": "q1", "type": "quantitative", "axis": null}, "y2": {"field": "q3"}}},
   {"transform": [{"filter": "isValid(datum.q1)"}], "mark": {"type": "tick", "orient": "horizontal", "color": "white", "size": 4.5, "thickness": 1.5, "opacity": 1}, "encoding": {"x": {"datum": 0, "axis": null}, "y": {"field": "med", "type": "quantitative", "axis": null}}}
  ]}
 ], "resolve": {"scale": {"x": "independent"}, "axis": {"x": "independent", "y": "independent"}}}
},
{"data": {"name": "DG"},
 "title": {"text": "Dipper", "orient": "right", "fontSize": 20, "fontWeight": "bold", "color": "#222", "offset": 25},
 "facet": {"column": {"field": "detector", "type": "nominal", "sort": ["FastGPT","FourierGPT","AdaGPT","DetectLLM"], "title": null, "header": {"labels": false}}},
 "spacing": 0, "bounds": "flush",
 "spec": {"width": 98.75, "height": 176, "layer": [
  {"transform": [{"filter": "datum.method === 'Original' && isValid(datum.dens)"}], "mark": {"type": "area", "orient": "horizontal", "stroke": "#666", "strokeWidth": 1}, "encoding": {"y": {"field": "auroc", "type": "quantitative", "scale": {"domain": [26, 122], "nice": false, "zero": false}, "axis": {"title": null, "values": [40,60,80,100,120], "domain": false}}, "x": {"field": "dens", "type": "quantitative", "stack": null, "scale": {"domain": [-5.75, 1.75], "reverse": true}, "axis": null}, "x2": {"datum": 0}, "fill": {"field": "method", "type": "nominal", "title": null, "scale": {"domain": ["Original","Preliminary","Ours"], "range": ["#80a9cd","#f4c994","#e8768e"]}}}},
  {"transform": [{"filter": "datum.method === 'Original'"}], "layer": [
   {"transform": [{"filter": "isValid(datum.dens)"}], "mark": {"type": "area", "orient": "horizontal", "stroke": "#666", "strokeWidth": 1}, "encoding": {"y": {"field": "auroc", "type": "quantitative", "axis": null}, "x": {"field": "dens", "type": "quantitative", "stack": null, "scale": {"domain": [-1.75, 5.75]}, "axis": null}, "x2": {"datum": 0}, "fill": {"field": "method", "type": "nominal", "title": null}}},
   {"transform": [{"filter": "isValid(datum.q1) && datum.detector !== 'FastGPT'"}], "mark": {"type": "rule", "color": "#c4c4c4", "strokeWidth": 1.5, "strokeDash": [5, 3.5]}, "encoding": {"x": {"datum": -1.75, "axis": null}}},
   {"transform": [{"filter": "isValid(datum.q1) && datum.detector === 'FastGPT'"}], "mark": {"type": "rule", "color": "#000", "strokeWidth": 2.5}, "encoding": {"x": {"datum": -1.75, "axis": null}}},
   {"transform": [{"filter": "isValid(datum.q1) && datum.detector === 'DetectLLM'"}], "mark": {"type": "rule", "color": "#000", "strokeWidth": 2.5}, "encoding": {"x": {"datum": 5.75, "axis": null}}},
   {"transform": [{"filter": "isValid(datum.q1)"}], "mark": {"type": "rule", "color": "#000", "strokeWidth": 2.5}, "encoding": {"y": {"datum": 122, "axis": null}}},
   {"transform": [{"filter": "isValid(datum.q1)"}], "mark": {"type": "rule", "color": "#000", "strokeWidth": 2.5}, "encoding": {"y": {"datum": 26, "axis": null}}},
   {"transform": [{"filter": "isValid(datum.q1)"}], "mark": {"type": "rule", "color": "#555", "strokeWidth": 1.5}, "encoding": {"x": {"datum": 0, "axis": null}, "y": {"field": "lo", "type": "quantitative", "axis": null}, "y2": {"field": "hi"}}},
   {"transform": [{"filter": "isValid(datum.q1)"}], "mark": {"type": "rule", "color": "#555", "strokeWidth": 5}, "encoding": {"x": {"datum": 0, "axis": null}, "y": {"field": "q1", "type": "quantitative", "axis": null}, "y2": {"field": "q3"}}},
   {"transform": [{"filter": "isValid(datum.q1)"}], "mark": {"type": "tick", "orient": "horizontal", "color": "white", "size": 4.5, "thickness": 1.5, "opacity": 1}, "encoding": {"x": {"datum": 0, "axis": null}, "y": {"field": "med", "type": "quantitative", "axis": null}}}
  ]},
  {"transform": [{"filter": "datum.method === 'Preliminary' && isValid(datum.dens)"}], "mark": {"type": "area", "orient": "horizontal", "stroke": "#666", "strokeWidth": 1}, "encoding": {"y": {"field": "auroc", "type": "quantitative", "axis": null}, "x": {"field": "dens", "type": "quantitative", "stack": null, "scale": {"domain": [-3.75, 3.75], "reverse": true}, "axis": null}, "x2": {"datum": 0}, "fill": {"field": "method", "type": "nominal", "title": null}}},
  {"transform": [{"filter": "datum.method === 'Preliminary'"}], "layer": [
   {"transform": [{"filter": "isValid(datum.dens)"}], "mark": {"type": "area", "orient": "horizontal", "stroke": "#666", "strokeWidth": 1}, "encoding": {"y": {"field": "auroc", "type": "quantitative", "axis": null}, "x": {"field": "dens", "type": "quantitative", "stack": null, "scale": {"domain": [-3.75, 3.75]}, "axis": null}, "x2": {"datum": 0}, "fill": {"field": "method", "type": "nominal", "title": null}}},
   {"transform": [{"filter": "isValid(datum.q1)"}], "mark": {"type": "rule", "color": "#000", "strokeWidth": 1.2}, "encoding": {"x": {"datum": 0, "axis": null}, "y": {"datum": 26, "axis": null}, "y2": {"datum": 23.82}}},
   {"transform": [{"filter": "isValid(datum.q1)"}], "mark": {"type": "rule", "color": "#555", "strokeWidth": 1.5}, "encoding": {"x": {"datum": 0, "axis": null}, "y": {"field": "lo", "type": "quantitative", "axis": null}, "y2": {"field": "hi"}}},
   {"transform": [{"filter": "isValid(datum.q1)"}], "mark": {"type": "rule", "color": "#555", "strokeWidth": 5}, "encoding": {"x": {"datum": 0, "axis": null}, "y": {"field": "q1", "type": "quantitative", "axis": null}, "y2": {"field": "q3"}}},
   {"transform": [{"filter": "isValid(datum.q1)"}], "mark": {"type": "tick", "orient": "horizontal", "color": "white", "size": 4.5, "thickness": 1.5, "opacity": 1}, "encoding": {"x": {"datum": 0, "axis": null}, "y": {"field": "med", "type": "quantitative", "axis": null}}}
  ]},
  {"transform": [{"filter": "datum.method === 'Ours' && isValid(datum.dens)"}], "mark": {"type": "area", "orient": "horizontal", "stroke": "#666", "strokeWidth": 1}, "encoding": {"y": {"field": "auroc", "type": "quantitative", "axis": null}, "x": {"field": "dens", "type": "quantitative", "stack": null, "scale": {"domain": [-1.75, 5.75], "reverse": true}, "axis": null}, "x2": {"datum": 0}, "fill": {"field": "method", "type": "nominal", "title": null}}},
  {"transform": [{"filter": "datum.method === 'Ours'"}], "layer": [
   {"transform": [{"filter": "isValid(datum.dens)"}], "mark": {"type": "area", "orient": "horizontal", "stroke": "#666", "strokeWidth": 1}, "encoding": {"y": {"field": "auroc", "type": "quantitative", "axis": null}, "x": {"field": "dens", "type": "quantitative", "stack": null, "scale": {"domain": [-5.75, 1.75]}, "axis": null}, "x2": {"datum": 0}, "fill": {"field": "method", "type": "nominal", "title": null}}},
   {"transform": [{"filter": "isValid(datum.q1)"}], "mark": {"type": "rule", "color": "#555", "strokeWidth": 1.5}, "encoding": {"x": {"datum": 0, "axis": null}, "y": {"field": "lo", "type": "quantitative", "axis": null}, "y2": {"field": "hi"}}},
   {"transform": [{"filter": "isValid(datum.q1)"}], "mark": {"type": "rule", "color": "#555", "strokeWidth": 5}, "encoding": {"x": {"datum": 0, "axis": null}, "y": {"field": "q1", "type": "quantitative", "axis": null}, "y2": {"field": "q3"}}},
   {"transform": [{"filter": "isValid(datum.q1)"}], "mark": {"type": "tick", "orient": "horizontal", "color": "white", "size": 4.5, "thickness": 1.5, "opacity": 1}, "encoding": {"x": {"datum": 0, "axis": null}, "y": {"field": "med", "type": "quantitative", "axis": null}}}
  ]}
 ], "resolve": {"scale": {"x": "independent"}, "axis": {"x": "independent", "y": "independent"}}}
},
{"data": {"name": "PL"},
 "facet": {"column": {"field": "detector", "type": "nominal", "sort": ["FastGPT","FourierGPT","AdaGPT","DetectLLM"], "title": "Test Text: Llama-2-70b", "header": {"labelOrient": "bottom", "titleOrient": "bottom", "labelPadding": 7, "titlePadding": 2}}},
 "spacing": 0, "bounds": "flush",
 "spec": {"width": 98.75, "height": 176, "layer": [
  {"transform": [{"filter": "datum.method === 'Original' && isValid(datum.dens)"}], "mark": {"type": "area", "orient": "horizontal", "stroke": "#666", "strokeWidth": 1}, "encoding": {"y": {"field": "auroc", "type": "quantitative", "scale": {"domain": [23.8, 128.4], "nice": false, "zero": false}, "axis": {"title": "AUROC", "values": [25,50,75,100,125], "domain": false}}, "x": {"field": "dens", "type": "quantitative", "stack": null, "scale": {"domain": [-5.75, 1.75], "reverse": true}, "axis": null}, "x2": {"datum": 0}, "fill": {"field": "method", "type": "nominal", "title": null, "scale": {"domain": ["Original","Preliminary","Ours"], "range": ["#80a9cd","#f4c994","#e8768e"]}}}},
  {"transform": [{"filter": "datum.method === 'Original'"}], "layer": [
   {"transform": [{"filter": "isValid(datum.dens)"}], "mark": {"type": "area", "orient": "horizontal", "stroke": "#666", "strokeWidth": 1}, "encoding": {"y": {"field": "auroc", "type": "quantitative", "axis": null}, "x": {"field": "dens", "type": "quantitative", "stack": null, "scale": {"domain": [-1.75, 5.75]}, "axis": null}, "x2": {"datum": 0}, "fill": {"field": "method", "type": "nominal", "title": null}}},
   {"transform": [{"filter": "isValid(datum.q1) && datum.detector !== 'FastGPT'"}], "mark": {"type": "rule", "color": "#c4c4c4", "strokeWidth": 1.5, "strokeDash": [5, 3.5]}, "encoding": {"x": {"datum": -1.75, "axis": null}}},
   {"transform": [{"filter": "isValid(datum.q1) && datum.detector === 'FastGPT'"}], "mark": {"type": "rule", "color": "#000", "strokeWidth": 2.5}, "encoding": {"x": {"datum": -1.75, "axis": null}}},
   {"transform": [{"filter": "isValid(datum.q1) && datum.detector === 'DetectLLM'"}], "mark": {"type": "rule", "color": "#000", "strokeWidth": 2.5}, "encoding": {"x": {"datum": 5.75, "axis": null}}},
   {"transform": [{"filter": "isValid(datum.q1)"}], "mark": {"type": "rule", "color": "#000", "strokeWidth": 2.5}, "encoding": {"y": {"datum": 128.4, "axis": null}}},
   {"transform": [{"filter": "isValid(datum.q1)"}], "mark": {"type": "rule", "color": "#000", "strokeWidth": 2.5}, "encoding": {"y": {"datum": 23.8, "axis": null}}},
   {"transform": [{"filter": "isValid(datum.q1)"}], "mark": {"type": "rule", "color": "#555", "strokeWidth": 1.5}, "encoding": {"x": {"datum": 0, "axis": null}, "y": {"field": "lo", "type": "quantitative", "axis": null}, "y2": {"field": "hi"}}},
   {"transform": [{"filter": "isValid(datum.q1)"}], "mark": {"type": "rule", "color": "#555", "strokeWidth": 5}, "encoding": {"x": {"datum": 0, "axis": null}, "y": {"field": "q1", "type": "quantitative", "axis": null}, "y2": {"field": "q3"}}},
   {"transform": [{"filter": "isValid(datum.q1)"}], "mark": {"type": "tick", "orient": "horizontal", "color": "white", "size": 4.5, "thickness": 1.5, "opacity": 1}, "encoding": {"x": {"datum": 0, "axis": null}, "y": {"field": "med", "type": "quantitative", "axis": null}}}
  ]},
  {"transform": [{"filter": "datum.method === 'Preliminary' && isValid(datum.dens)"}], "mark": {"type": "area", "orient": "horizontal", "stroke": "#666", "strokeWidth": 1}, "encoding": {"y": {"field": "auroc", "type": "quantitative", "axis": null}, "x": {"field": "dens", "type": "quantitative", "stack": null, "scale": {"domain": [-3.75, 3.75], "reverse": true}, "axis": null}, "x2": {"datum": 0}, "fill": {"field": "method", "type": "nominal", "title": null}}},
  {"transform": [{"filter": "datum.method === 'Preliminary'"}], "layer": [
   {"transform": [{"filter": "isValid(datum.dens)"}], "mark": {"type": "area", "orient": "horizontal", "stroke": "#666", "strokeWidth": 1}, "encoding": {"y": {"field": "auroc", "type": "quantitative", "axis": null}, "x": {"field": "dens", "type": "quantitative", "stack": null, "scale": {"domain": [-3.75, 3.75]}, "axis": null}, "x2": {"datum": 0}, "fill": {"field": "method", "type": "nominal", "title": null}}},
   {"transform": [{"filter": "isValid(datum.q1)"}], "mark": {"type": "rule", "color": "#000", "strokeWidth": 1.2}, "encoding": {"x": {"datum": 0, "axis": null}, "y": {"datum": 23.8, "axis": null}, "y2": {"datum": 21.41}}},
   {"transform": [{"filter": "isValid(datum.q1)"}], "mark": {"type": "rule", "color": "#555", "strokeWidth": 1.5}, "encoding": {"x": {"datum": 0, "axis": null}, "y": {"field": "lo", "type": "quantitative", "axis": null}, "y2": {"field": "hi"}}},
   {"transform": [{"filter": "isValid(datum.q1)"}], "mark": {"type": "rule", "color": "#555", "strokeWidth": 5}, "encoding": {"x": {"datum": 0, "axis": null}, "y": {"field": "q1", "type": "quantitative", "axis": null}, "y2": {"field": "q3"}}},
   {"transform": [{"filter": "isValid(datum.q1)"}], "mark": {"type": "tick", "orient": "horizontal", "color": "white", "size": 4.5, "thickness": 1.5, "opacity": 1}, "encoding": {"x": {"datum": 0, "axis": null}, "y": {"field": "med", "type": "quantitative", "axis": null}}}
  ]},
  {"transform": [{"filter": "datum.method === 'Ours' && isValid(datum.dens)"}], "mark": {"type": "area", "orient": "horizontal", "stroke": "#666", "strokeWidth": 1}, "encoding": {"y": {"field": "auroc", "type": "quantitative", "axis": null}, "x": {"field": "dens", "type": "quantitative", "stack": null, "scale": {"domain": [-1.75, 5.75], "reverse": true}, "axis": null}, "x2": {"datum": 0}, "fill": {"field": "method", "type": "nominal", "title": null}}},
  {"transform": [{"filter": "datum.method === 'Ours'"}], "layer": [
   {"transform": [{"filter": "isValid(datum.dens)"}], "mark": {"type": "area", "orient": "horizontal", "stroke": "#666", "strokeWidth": 1}, "encoding": {"y": {"field": "auroc", "type": "quantitative", "axis": null}, "x": {"field": "dens", "type": "quantitative", "stack": null, "scale": {"domain": [-5.75, 1.75]}, "axis": null}, "x2": {"datum": 0}, "fill": {"field": "method", "type": "nominal", "title": null}}},
   {"transform": [{"filter": "isValid(datum.q1)"}], "mark": {"type": "rule", "color": "#555", "strokeWidth": 1.5}, "encoding": {"x": {"datum": 0, "axis": null}, "y": {"field": "lo", "type": "quantitative", "axis": null}, "y2": {"field": "hi"}}},
   {"transform": [{"filter": "isValid(datum.q1)"}], "mark": {"type": "rule", "color": "#555", "strokeWidth": 5}, "encoding": {"x": {"datum": 0, "axis": null}, "y": {"field": "q1", "type": "quantitative", "axis": null}, "y2": {"field": "q3"}}},
   {"transform": [{"filter": "isValid(datum.q1)"}], "mark": {"type": "tick", "orient": "horizontal", "color": "white", "size": 4.5, "thickness": 1.5, "opacity": 1}, "encoding": {"x": {"datum": 0, "axis": null}, "y": {"field": "med", "type": "quantitative", "axis": null}}}
  ]}
 ], "resolve": {"scale": {"x": "independent"}, "axis": {"x": "independent", "y": "independent"}}}
},
{"data": {"name": "PC"},
 "facet": {"column": {"field": "detector", "type": "nominal", "sort": ["FastGPT","FourierGPT","AdaGPT","DetectLLM"], "title": "Test Text: ChatGPT", "header": {"labelOrient": "bottom", "titleOrient": "bottom", "labelPadding": 7, "titlePadding": 2}}},
 "spacing": 0, "bounds": "flush",
 "spec": {"width": 98.75, "height": 176, "layer": [
  {"transform": [{"filter": "datum.method === 'Original' && isValid(datum.dens)"}], "mark": {"type": "area", "orient": "horizontal", "stroke": "#666", "strokeWidth": 1}, "encoding": {"y": {"field": "auroc", "type": "quantitative", "scale": {"domain": [20.7, 108.4], "nice": false, "zero": false}, "axis": {"title": null, "values": [40,60,80,100], "domain": false}}, "x": {"field": "dens", "type": "quantitative", "stack": null, "scale": {"domain": [-5.75, 1.75], "reverse": true}, "axis": null}, "x2": {"datum": 0}, "fill": {"field": "method", "type": "nominal", "title": null, "scale": {"domain": ["Original","Preliminary","Ours"], "range": ["#80a9cd","#f4c994","#e8768e"]}}}},
  {"transform": [{"filter": "datum.method === 'Original'"}], "layer": [
   {"transform": [{"filter": "isValid(datum.dens)"}], "mark": {"type": "area", "orient": "horizontal", "stroke": "#666", "strokeWidth": 1}, "encoding": {"y": {"field": "auroc", "type": "quantitative", "axis": null}, "x": {"field": "dens", "type": "quantitative", "stack": null, "scale": {"domain": [-1.75, 5.75]}, "axis": null}, "x2": {"datum": 0}, "fill": {"field": "method", "type": "nominal", "title": null}}},
   {"transform": [{"filter": "isValid(datum.q1) && datum.detector !== 'FastGPT'"}], "mark": {"type": "rule", "color": "#c4c4c4", "strokeWidth": 1.5, "strokeDash": [5, 3.5]}, "encoding": {"x": {"datum": -1.75, "axis": null}}},
   {"transform": [{"filter": "isValid(datum.q1) && datum.detector === 'FastGPT'"}], "mark": {"type": "rule", "color": "#000", "strokeWidth": 2.5}, "encoding": {"x": {"datum": -1.75, "axis": null}}},
   {"transform": [{"filter": "isValid(datum.q1) && datum.detector === 'DetectLLM'"}], "mark": {"type": "rule", "color": "#000", "strokeWidth": 2.5}, "encoding": {"x": {"datum": 5.75, "axis": null}}},
   {"transform": [{"filter": "isValid(datum.q1)"}], "mark": {"type": "rule", "color": "#000", "strokeWidth": 2.5}, "encoding": {"y": {"datum": 108.4, "axis": null}}},
   {"transform": [{"filter": "isValid(datum.q1)"}], "mark": {"type": "rule", "color": "#000", "strokeWidth": 2.5}, "encoding": {"y": {"datum": 20.7, "axis": null}}},
   {"transform": [{"filter": "isValid(datum.q1)"}], "mark": {"type": "rule", "color": "#555", "strokeWidth": 1.5}, "encoding": {"x": {"datum": 0, "axis": null}, "y": {"field": "lo", "type": "quantitative", "axis": null}, "y2": {"field": "hi"}}},
   {"transform": [{"filter": "isValid(datum.q1)"}], "mark": {"type": "rule", "color": "#555", "strokeWidth": 5}, "encoding": {"x": {"datum": 0, "axis": null}, "y": {"field": "q1", "type": "quantitative", "axis": null}, "y2": {"field": "q3"}}},
   {"transform": [{"filter": "isValid(datum.q1)"}], "mark": {"type": "tick", "orient": "horizontal", "color": "white", "size": 4.5, "thickness": 1.5, "opacity": 1}, "encoding": {"x": {"datum": 0, "axis": null}, "y": {"field": "med", "type": "quantitative", "axis": null}}}
  ]},
  {"transform": [{"filter": "datum.method === 'Preliminary' && isValid(datum.dens)"}], "mark": {"type": "area", "orient": "horizontal", "stroke": "#666", "strokeWidth": 1}, "encoding": {"y": {"field": "auroc", "type": "quantitative", "axis": null}, "x": {"field": "dens", "type": "quantitative", "stack": null, "scale": {"domain": [-3.75, 3.75], "reverse": true}, "axis": null}, "x2": {"datum": 0}, "fill": {"field": "method", "type": "nominal", "title": null}}},
  {"transform": [{"filter": "datum.method === 'Preliminary'"}], "layer": [
   {"transform": [{"filter": "isValid(datum.dens)"}], "mark": {"type": "area", "orient": "horizontal", "stroke": "#666", "strokeWidth": 1}, "encoding": {"y": {"field": "auroc", "type": "quantitative", "axis": null}, "x": {"field": "dens", "type": "quantitative", "stack": null, "scale": {"domain": [-3.75, 3.75]}, "axis": null}, "x2": {"datum": 0}, "fill": {"field": "method", "type": "nominal", "title": null}}},
   {"transform": [{"filter": "isValid(datum.q1)"}], "mark": {"type": "rule", "color": "#000", "strokeWidth": 1.2}, "encoding": {"x": {"datum": 0, "axis": null}, "y": {"datum": 20.7, "axis": null}, "y2": {"datum": 18.7}}},
   {"transform": [{"filter": "isValid(datum.q1)"}], "mark": {"type": "rule", "color": "#555", "strokeWidth": 1.5}, "encoding": {"x": {"datum": 0, "axis": null}, "y": {"field": "lo", "type": "quantitative", "axis": null}, "y2": {"field": "hi"}}},
   {"transform": [{"filter": "isValid(datum.q1)"}], "mark": {"type": "rule", "color": "#555", "strokeWidth": 5}, "encoding": {"x": {"datum": 0, "axis": null}, "y": {"field": "q1", "type": "quantitative", "axis": null}, "y2": {"field": "q3"}}},
   {"transform": [{"filter": "isValid(datum.q1)"}], "mark": {"type": "tick", "orient": "horizontal", "color": "white", "size": 4.5, "thickness": 1.5, "opacity": 1}, "encoding": {"x": {"datum": 0, "axis": null}, "y": {"field": "med", "type": "quantitative", "axis": null}}}
  ]},
  {"transform": [{"filter": "datum.method === 'Ours' && isValid(datum.dens)"}], "mark": {"type": "area", "orient": "horizontal", "stroke": "#666", "strokeWidth": 1}, "encoding": {"y": {"field": "auroc", "type": "quantitative", "axis": null}, "x": {"field": "dens", "type": "quantitative", "stack": null, "scale": {"domain": [-1.75, 5.75], "reverse": true}, "axis": null}, "x2": {"datum": 0}, "fill": {"field": "method", "type": "nominal", "title": null}}},
  {"transform": [{"filter": "datum.method === 'Ours'"}], "layer": [
   {"transform": [{"filter": "isValid(datum.dens)"}], "mark": {"type": "area", "orient": "horizontal", "stroke": "#666", "strokeWidth": 1}, "encoding": {"y": {"field": "auroc", "type": "quantitative", "axis": null}, "x": {"field": "dens", "type": "quantitative", "stack": null, "scale": {"domain": [-5.75, 1.75]}, "axis": null}, "x2": {"datum": 0}, "fill": {"field": "method", "type": "nominal", "title": null}}},
   {"transform": [{"filter": "isValid(datum.q1)"}], "mark": {"type": "rule", "color": "#555", "strokeWidth": 1.5}, "encoding": {"x": {"datum": 0, "axis": null}, "y": {"field": "lo", "type": "quantitative", "axis": null}, "y2": {"field": "hi"}}},
   {"transform": [{"filter": "isValid(datum.q1)"}], "mark": {"type": "rule", "color": "#555", "strokeWidth": 5}, "encoding": {"x": {"datum": 0, "axis": null}, "y": {"field": "q1", "type": "quantitative", "axis": null}, "y2": {"field": "q3"}}},
   {"transform": [{"filter": "isValid(datum.q1)"}], "mark": {"type": "tick", "orient": "horizontal", "color": "white", "size": 4.5, "thickness": 1.5, "opacity": 1}, "encoding": {"x": {"datum": 0, "axis": null}, "y": {"field": "med", "type": "quantitative", "axis": null}}}
  ]}
 ], "resolve": {"scale": {"x": "independent"}, "axis": {"x": "independent", "y": "independent"}}}
},
{"data": {"name": "PG"},
 "title": {"text": "Polish", "orient": "right", "fontSize": 20, "fontWeight": "bold", "color": "#222", "offset": 25},
 "facet": {"column": {"field": "detector", "type": "nominal", "sort": ["FastGPT","FourierGPT","AdaGPT","DetectLLM"], "title": "Test Text: Google-PaLM", "header": {"labelOrient": "bottom", "titleOrient": "bottom", "labelPadding": 7, "titlePadding": 2}}},
 "spacing": 0, "bounds": "flush",
 "spec": {"width": 98.75, "height": 176, "layer": [
  {"transform": [{"filter": "datum.method === 'Original' && isValid(datum.dens)"}], "mark": {"type": "area", "orient": "horizontal", "stroke": "#666", "strokeWidth": 1}, "encoding": {"y": {"field": "auroc", "type": "quantitative", "scale": {"domain": [24.6, 111.4], "nice": false, "zero": false}, "axis": {"title": null, "values": [40,60,80,100], "domain": false}}, "x": {"field": "dens", "type": "quantitative", "stack": null, "scale": {"domain": [-5.75, 1.75], "reverse": true}, "axis": null}, "x2": {"datum": 0}, "fill": {"field": "method", "type": "nominal", "title": null, "scale": {"domain": ["Original","Preliminary","Ours"], "range": ["#80a9cd","#f4c994","#e8768e"]}}}},
  {"transform": [{"filter": "datum.method === 'Original'"}], "layer": [
   {"transform": [{"filter": "isValid(datum.dens)"}], "mark": {"type": "area", "orient": "horizontal", "stroke": "#666", "strokeWidth": 1}, "encoding": {"y": {"field": "auroc", "type": "quantitative", "axis": null}, "x": {"field": "dens", "type": "quantitative", "stack": null, "scale": {"domain": [-1.75, 5.75]}, "axis": null}, "x2": {"datum": 0}, "fill": {"field": "method", "type": "nominal", "title": null}}},
   {"transform": [{"filter": "isValid(datum.q1) && datum.detector !== 'FastGPT'"}], "mark": {"type": "rule", "color": "#c4c4c4", "strokeWidth": 1.5, "strokeDash": [5, 3.5]}, "encoding": {"x": {"datum": -1.75, "axis": null}}},
   {"transform": [{"filter": "isValid(datum.q1) && datum.detector === 'FastGPT'"}], "mark": {"type": "rule", "color": "#000", "strokeWidth": 2.5}, "encoding": {"x": {"datum": -1.75, "axis": null}}},
   {"transform": [{"filter": "isValid(datum.q1) && datum.detector === 'DetectLLM'"}], "mark": {"type": "rule", "color": "#000", "strokeWidth": 2.5}, "encoding": {"x": {"datum": 5.75, "axis": null}}},
   {"transform": [{"filter": "isValid(datum.q1)"}], "mark": {"type": "rule", "color": "#000", "strokeWidth": 2.5}, "encoding": {"y": {"datum": 111.4, "axis": null}}},
   {"transform": [{"filter": "isValid(datum.q1)"}], "mark": {"type": "rule", "color": "#000", "strokeWidth": 2.5}, "encoding": {"y": {"datum": 24.6, "axis": null}}},
   {"transform": [{"filter": "isValid(datum.q1)"}], "mark": {"type": "rule", "color": "#555", "strokeWidth": 1.5}, "encoding": {"x": {"datum": 0, "axis": null}, "y": {"field": "lo", "type": "quantitative", "axis": null}, "y2": {"field": "hi"}}},
   {"transform": [{"filter": "isValid(datum.q1)"}], "mark": {"type": "rule", "color": "#555", "strokeWidth": 5}, "encoding": {"x": {"datum": 0, "axis": null}, "y": {"field": "q1", "type": "quantitative", "axis": null}, "y2": {"field": "q3"}}},
   {"transform": [{"filter": "isValid(datum.q1)"}], "mark": {"type": "tick", "orient": "horizontal", "color": "white", "size": 4.5, "thickness": 1.5, "opacity": 1}, "encoding": {"x": {"datum": 0, "axis": null}, "y": {"field": "med", "type": "quantitative", "axis": null}}}
  ]},
  {"transform": [{"filter": "datum.method === 'Preliminary' && isValid(datum.dens)"}], "mark": {"type": "area", "orient": "horizontal", "stroke": "#666", "strokeWidth": 1}, "encoding": {"y": {"field": "auroc", "type": "quantitative", "axis": null}, "x": {"field": "dens", "type": "quantitative", "stack": null, "scale": {"domain": [-3.75, 3.75], "reverse": true}, "axis": null}, "x2": {"datum": 0}, "fill": {"field": "method", "type": "nominal", "title": null}}},
  {"transform": [{"filter": "datum.method === 'Preliminary'"}], "layer": [
   {"transform": [{"filter": "isValid(datum.dens)"}], "mark": {"type": "area", "orient": "horizontal", "stroke": "#666", "strokeWidth": 1}, "encoding": {"y": {"field": "auroc", "type": "quantitative", "axis": null}, "x": {"field": "dens", "type": "quantitative", "stack": null, "scale": {"domain": [-3.75, 3.75]}, "axis": null}, "x2": {"datum": 0}, "fill": {"field": "method", "type": "nominal", "title": null}}},
   {"transform": [{"filter": "isValid(datum.q1)"}], "mark": {"type": "rule", "color": "#000", "strokeWidth": 1.2}, "encoding": {"x": {"datum": 0, "axis": null}, "y": {"datum": 24.6, "axis": null}, "y2": {"datum": 22.62}}},
   {"transform": [{"filter": "isValid(datum.q1)"}], "mark": {"type": "rule", "color": "#555", "strokeWidth": 1.5}, "encoding": {"x": {"datum": 0, "axis": null}, "y": {"field": "lo", "type": "quantitative", "axis": null}, "y2": {"field": "hi"}}},
   {"transform": [{"filter": "isValid(datum.q1)"}], "mark": {"type": "rule", "color": "#555", "strokeWidth": 5}, "encoding": {"x": {"datum": 0, "axis": null}, "y": {"field": "q1", "type": "quantitative", "axis": null}, "y2": {"field": "q3"}}},
   {"transform": [{"filter": "isValid(datum.q1)"}], "mark": {"type": "tick", "orient": "horizontal", "color": "white", "size": 4.5, "thickness": 1.5, "opacity": 1}, "encoding": {"x": {"datum": 0, "axis": null}, "y": {"field": "med", "type": "quantitative", "axis": null}}}
  ]},
  {"transform": [{"filter": "datum.method === 'Ours' && isValid(datum.dens)"}], "mark": {"type": "area", "orient": "horizontal", "stroke": "#666", "strokeWidth": 1}, "encoding": {"y": {"field": "auroc", "type": "quantitative", "axis": null}, "x": {"field": "dens", "type": "quantitative", "stack": null, "scale": {"domain": [-1.75, 5.75], "reverse": true}, "axis": null}, "x2": {"datum": 0}, "fill": {"field": "method", "type": "nominal", "title": null}}},
  {"transform": [{"filter": "datum.method === 'Ours'"}], "layer": [
   {"transform": [{"filter": "isValid(datum.dens)"}], "mark": {"type": "area", "orient": "horizontal", "stroke": "#666", "strokeWidth": 1}, "encoding": {"y": {"field": "auroc", "type": "quantitative", "axis": null}, "x": {"field": "dens", "type": "quantitative", "stack": null, "scale": {"domain": [-5.75, 1.75]}, "axis": null}, "x2": {"datum": 0}, "fill": {"field": "method", "type": "nominal", "title": null}}},
   {"transform": [{"filter": "isValid(datum.q1)"}], "mark": {"type": "rule", "color": "#555", "strokeWidth": 1.5}, "encoding": {"x": {"datum": 0, "axis": null}, "y": {"field": "lo", "type": "quantitative", "axis": null}, "y2": {"field": "hi"}}},
   {"transform": [{"filter": "isValid(datum.q1)"}], "mark": {"type": "rule", "color": "#555", "strokeWidth": 5}, "encoding": {"x": {"datum": 0, "axis": null}, "y": {"field": "q1", "type": "quantitative", "axis": null}, "y2": {"field": "q3"}}},
   {"transform": [{"filter": "isValid(datum.q1)"}], "mark": {"type": "tick", "orient": "horizontal", "color": "white", "size": 4.5, "thickness": 1.5, "opacity": 1}, "encoding": {"x": {"datum": 0, "axis": null}, "y": {"field": "med", "type": "quantitative", "axis": null}}}
  ]}
 ], "resolve": {"scale": {"x": "independent"}, "axis": {"x": "independent", "y": "independent"}}}
}
],
"columns": 3,
"spacing": {"row": 19.7, "column": 1.5},
"align": "each",
"resolve": {"scale": {"x": "independent", "y": "independent", "fill": "shared"}},
"config": {
 "font": "DejaVu Sans",
 "view": {"stroke": null},
 "axis": {"labelFont": "DejaVu Sans", "labelFontSize": 16, "labelColor": "#000", "titleFont": "DejaVu Sans", "titleFontSize": 20, "titleFontWeight": "normal", "titleColor": "#000", "tickColor": "#000", "tickWidth": 1.2, "tickSize": 4, "domainColor": "#000", "domainWidth": 2.5, "labelPadding": 2, "titlePadding": 6, "grid": false},
 "header": {"labelFont": "DejaVu Sans", "labelFontSize": 16, "labelColor": "#000", "titleFont": "DejaVu Sans", "titleFontSize": 20, "titleFontWeight": "bold", "titleColor": "#000"},
 "title": {"font": "DejaVu Sans"},
 "legend": {"orient": "none", "legendX": -5.95, "legendY": -32.9, "direction": "horizontal", "columnPadding": 440.5, "symbolType": "M-2,-0.68H2V0.68H-2Z", "symbolSize": 380, "symbolStrokeColor": "#888", "symbolStrokeWidth": 1, "symbolOpacity": 1, "labelFont": "DejaVu Sans", "labelFontSize": 18.5, "labelColor": "#333", "labelOffset": 23.75, "padding": 0, "gridAlign": "each"}
}
}
